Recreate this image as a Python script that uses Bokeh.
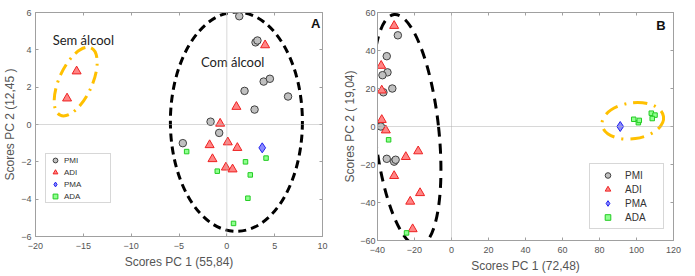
from bokeh.plotting import figure
from bokeh.layouts import row
from bokeh.models import (FixedTicker, LinearAxis, Span, Legend, LegendItem, Range1d)
from bokeh.core.properties import value
from bokeh.embed import file_html
from bokeh.resources import INLINE

# ---------------- Panel A data ----------------
a_pmi_x = [1.3, 3.0, 3.2, 1.85, 3.85, 4.5, 6.4, 2.9, -1.7, -0.8, -4.6]
a_pmi_y = [5.8, 4.4, 4.5, 1.8, 2.3, 2.45, 1.5, 0.8, 0.15, -0.45, -1.0]
a_adi_x = [-15.7, -16.7, 4.0, 1.0, -0.7, -1.8, 0.1, 1.1, -1.5, -0.1, 0.6]
a_adi_y = [2.85, 1.4, 4.25, 0.95, 0.05, -1.1, -0.95, -1.25, -1.85, -2.3, -2.4]
a_pma_x = [3.7]
a_pma_y = [-1.25]
a_ada_x = [-4.2, -1.0, 1.95, 4.1, 2.45, 2.2, 0.7]
a_ada_y = [-1.45, -2.5, -2.0, -1.8, -2.7, -3.95, -5.3]
a_xticks = [-20, -15, -10, -5, 0, 5, 10]
a_yticks = [-6, -4, -2, 0, 2, 4, 6]

# ---------------- Panel B data ----------------
b_pmi_x = [-29.0, -35.0, -34.6, -37.3, -32.0, -36.8, -38.2, -35.0, -31.0, -30.2]
b_pmi_y = [48.0, 37.0, 28.5, 27.0, 20.0, 18.0, 0.0, -17.0, -18.5, -17.5]
b_adi_x = [-31.0, -38.0, -37.7, -37.7, -35.5, -24.7, -18.0, -31.0, -17.0, -22.3, -21.0]
b_adi_y = [53.0, 32.0, 19.0, 3.5, -2.0, -16.0, -13.0, -26.0, -35.0, -39.5, -54.0]
b_pma_x = [91.2]
b_pma_y = [0.0]
b_ada_x = [-34.0, -24.3, 98.5, 101.0, 101.5, 108.0, 110.0, 108.5]
b_ada_y = [-7.0, -56.0, 3.8, 2.0, 3.2, 7.0, 6.0, 4.2]
b_xticks = [-40, -20, 0, 20, 40, 60, 80, 100, 120]
b_yticks = [-60, -40, -20, 0, 20, 40, 60]

GRAY = "#555555"
TICKFONT = "Liberation Sans"


def style(p, xticks, yticks, xlabel, ylabel, y_standoff, y_label_standoff):
    p.xgrid.visible = False
    p.ygrid.visible = False
    p.outline_line_color = "#a0a0a0"
    p.outline_line_width = 1
    for ax, ticks in ((p.xaxis[0], xticks), (p.yaxis[0], yticks)):
        ax.ticker = FixedTicker(ticks=ticks)
        ax.minor_tick_line_color = None
        ax.major_tick_in = 3
        ax.major_tick_out = 0
        ax.major_tick_line_color = "#a0a0a0"
        ax.axis_line_color = "#a0a0a0"
        ax.major_label_text_font = TICKFONT
        ax.major_label_text_font_size = "9px"
        ax.major_label_text_color = GRAY
        ax.axis_label_text_font = TICKFONT
        ax.axis_label_text_font_size = "12px"
        ax.axis_label_text_font_style = "normal"
        ax.axis_label_text_color = GRAY
    p.xaxis[0].major_label_standoff = 6
    p.xaxis[0].axis_label_standoff = 3
    p.yaxis[0].major_label_standoff = y_standoff
    p.yaxis[0].axis_label_standoff = y_label_standoff
    p.xaxis[0].axis_label = xlabel
    p.yaxis[0].axis_label = ylabel
    # mirrored ticks top and right (no labels)
    for side, ticks in (("above", xticks), ("right", yticks)):
        ax = LinearAxis(ticker=FixedTicker(ticks=ticks))
        ax.major_label_text_color = None
        ax.major_label_text_font_size = "1px"
        ax.major_label_standoff = 0
        ax.minor_tick_line_color = None
        ax.major_tick_in = 3
        ax.major_tick_out = 0
        ax.major_tick_line_color = "#a0a0a0"
        ax.axis_line_color = "#a0a0a0"
        p.add_layout(ax, side)
    p.add_layout(Span(location=0, dimension="width", line_color="#b0b0b0",
                      line_dash="1 1", line_width=1))
    p.add_layout(Span(location=0, dimension="height", line_color="#b0b0b0",
                      line_dash="1 1", line_width=1))


def points(p, PX, PY):
    r1 = p.scatter(x=PX[0], y=PY[0], marker="circle", size=7.5,
                   fill_color="#c0c0c0", line_color="#404040", line_width=1)
    r2 = p.scatter(x=PX[1], y=PY[1], marker="triangle", size=9,
                   fill_color="#ff8585", line_color="#ee2222", line_width=1)
    r3 = p.scatter(x=PX[2], y=PY[2], marker="diamond", size=10,
                   fill_color="#8a8aff", line_color="#2222ee", line_width=1)
    r4 = p.scatter(x=PX[3], y=PY[3], marker="square", size=4.5,
                   fill_color="#90ff90", line_color="#22cc22", line_width=1)
    return [r1, r2, r3, r4]


labels = ["PMI", "ADI", "PMA", "ADA"]

# ---------------- Figure A ----------------
pA = figure(frame_width=287, frame_height=224, x_range=Range1d(-20, 10),
            y_range=Range1d(-6, 6), output_backend="svg", toolbar_location=None,
            min_border_left=28, min_border_right=18, min_border_top=12,
            min_border_bottom=33)
style(pA, a_xticks, a_yticks, "Scores PC 1 (55,84)", "Scores PC 2 (12,45 )", 4, 1)

pA.ellipse(x=[1.0], y=[0.15], width=13.8, height=11.75, fill_alpha=0,
           line_color="black", line_width=3, line_dash="8 5")
pA.ellipse(x=[-15.8], y=[2.3], width=74, height=33, angle=65.4,
           angle_units="deg", width_units="screen", height_units="screen",
           fill_alpha=0, line_color="#ffc000", line_width=3,
           line_dash="12 6 2 6")

rA = points(pA, [a_pmi_x, a_adi_x, a_pma_x, a_ada_x],
            [a_pmi_y, a_adi_y, a_pma_y, a_ada_y])

pA.text(x=[-18.2], y=[4.55], text=["Sem álcool"], text_font=value("Lato"),
        text_font_size="13px", text_color="#222222", text_baseline="middle")
pA.text(x=[-2.7], y=[3.35], text=["Com álcool"], text_font=value("Lato"),
        text_font_size="13px", text_color="#222222", text_baseline="middle")
pA.text(x=[9.3], y=[5.42], text=["A"], text_font=value("Liberation Sans"),
        text_font_size="13px", text_font_style="bold", text_color="#111111",
        text_align="center", text_baseline="middle")

legA = Legend(items=[LegendItem(label=l, renderers=[r]) for l, r in zip(labels, rA)],
              location=(10, 33), glyph_width=18, glyph_height=12,
              label_height=12, spacing=0, padding=0, label_standoff=0,
              label_width=46, margin=0,
              label_text_font=TICKFONT, label_text_font_size="8px",
              label_text_color="#333333", border_line_color="#b0b0b0",
              border_line_width=1, background_fill_color="white")
pA.add_layout(legA, "center")

# ---------------- Figure B ----------------
pB = figure(frame_width=296, frame_height=228, x_range=Range1d(-40, 120),
            y_range=Range1d(-60, 60), output_backend="svg", toolbar_location=None,
            min_border_left=30, min_border_right=13, min_border_top=12,
            min_border_bottom=29)
style(pB, b_xticks, b_yticks, "Scores PC 1 (72,48)", "Scores PC 2 ( 19,04)", 2, 0)

pB.ellipse(x=[-24.2], y=[-2.0], width=64, height=233, angle=6.2,
           angle_units="deg", width_units="screen", height_units="screen",
           fill_alpha=0, line_color="black", line_width=3, line_dash="10 7")
pB.ellipse(x=[98.0], y=[3.0], width=62, height=36, angle=8,
           angle_units="deg", width_units="screen", height_units="screen",
           fill_alpha=0, line_color="#ffc000", line_width=3,
           line_dash="14 7 2 7")

rB = points(pB, [b_pmi_x, b_adi_x, b_pma_x, b_ada_x],
            [b_pmi_y, b_adi_y, b_pma_y, b_ada_y])

pB.text(x=[113.2], y=[53.4], text=["B"], text_font=value("Liberation Sans"),
        text_font_size="13px", text_font_style="bold", text_color="#111111",
        text_align="center", text_baseline="middle")

legB = Legend(items=[LegendItem(label=l, renderers=[r]) for l, r in zip(labels, rB)],
              location=(212, 11), glyph_width=27, glyph_height=14,
              label_height=14, spacing=0, padding=4, label_standoff=4,
              label_width=34, margin=0,
              label_text_font=TICKFONT, label_text_font_size="10px",
              label_text_color="#333333", border_line_color="#b0b0b0",
              border_line_width=1.5, background_fill_color="white")
pB.add_layout(legB, "center")

layout = row(pA, pB, spacing=0)
open("out.html", "w").write(file_html(layout, INLINE))
